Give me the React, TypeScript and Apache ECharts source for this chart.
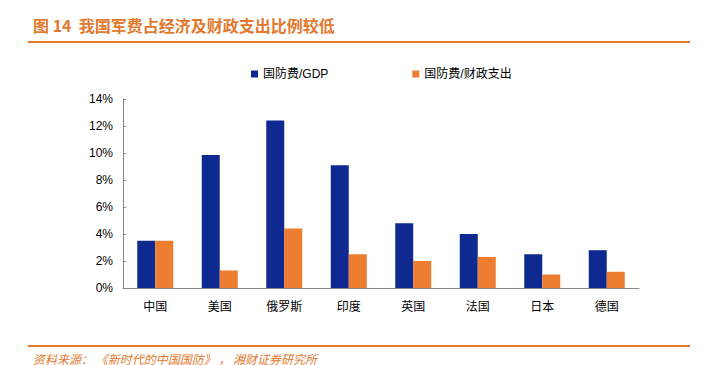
import React, { useEffect, useRef } from "react";
import * as echarts from "echarts";

const categories = ["中国", "美国", "俄罗斯", "印度", "英国", "法国", "日本", "德国"];
const gdpShare = [3.5, 9.85, 12.4, 9.1, 4.8, 4.0, 2.5, 2.8];
const fiscalShare = [3.5, 1.3, 4.4, 2.5, 2.0, 2.3, 1.0, 1.2];
const seriesNames = ["国防费/GDP", "国防费/财政支出"];
const titleText = "图 14  我国军费占经济及财政支出比例较低";
const sourceText = "资料来源： 《新时代的中国国防》 ， 湘财证券研究所";

const FONT = "'Liberation Sans', Arial, 'Noto Sans CJK SC', sans-serif";
const ORANGE = "#E2792F";

export default function App() {
  const ref = useRef<HTMLDivElement>(null);
  useEffect(() => {
    if (!ref.current) return;
    const chart = echarts.init(ref.current, null, { renderer: "svg" });
    chart.setOption({
      animation: false,
      backgroundColor: "#fff",
      textStyle: { fontFamily: FONT },
      graphic: [
        {
          type: "text",
          x: 33,
          y: 25,
          style: {
            text: titleText,
            fill: ORANGE,
            font: "bold 16px 'Noto Sans CJK SC', sans-serif",
            verticalAlign: "middle",
          },
        },
        {
          type: "line",
          shape: { x1: 28, y1: 42, x2: 690, y2: 42 },
          style: { stroke: ORANGE, lineWidth: 2 },
        },
        {
          type: "line",
          shape: { x1: 28, y1: 346, x2: 690, y2: 346 },
          style: { stroke: ORANGE, lineWidth: 2 },
        },
        {
          type: "text",
          x: 33,
          y: 358,
          style: {
            text: sourceText,
            fill: ORANGE,
            font: "italic 12px 'Noto Sans CJK SC', sans-serif",
            verticalAlign: "middle",
          },
        },
      ],
      legend: {
        left: 246,
        top: 63,
        itemWidth: 7,
        itemHeight: 7,
        itemGap: 84,
        icon: "rect",
        textStyle: { fontSize: 12, color: "#000", fontFamily: FONT },
        data: seriesNames,
      },
      grid: { left: 123, top: 99, width: 516, height: 189, containLabel: false },
      xAxis: {
        type: "category",
        data: categories,
        axisLine: { lineStyle: { color: "#888", width: 1 } },
        axisTick: { inside: true, length: 4, lineStyle: { color: "#888" } },
        axisLabel: { fontSize: 12, color: "#000", margin: 13, fontFamily: FONT },
      },
      yAxis: {
        type: "value",
        min: 0,
        max: 14,
        interval: 2,
        axisLine: { show: true, lineStyle: { color: "#888", width: 1 } },
        axisTick: { show: true, inside: true, length: 3, lineStyle: { color: "#888" } },
        splitLine: { show: false },
        axisLabel: { fontSize: 12, color: "#000", margin: 10, formatter: "{value}%", fontFamily: FONT },
      },
      series: [
        {
          name: seriesNames[0],
          type: "bar",
          data: gdpShare,
          barWidth: 18,
          barGap: "0%",
          itemStyle: { color: "#0E2A90" },
        },
        {
          name: seriesNames[1],
          type: "bar",
          data: fiscalShare,
          barWidth: 18,
          barGap: "0%",
          itemStyle: { color: "#ED7D31" },
        },
      ],
    });
    return () => chart.dispose();
  }, []);
  return (
    <div
      ref={ref}
      style={{ position: "absolute", left: 0, top: 0, width: 721, height: 365 }}
    />
  );
}
